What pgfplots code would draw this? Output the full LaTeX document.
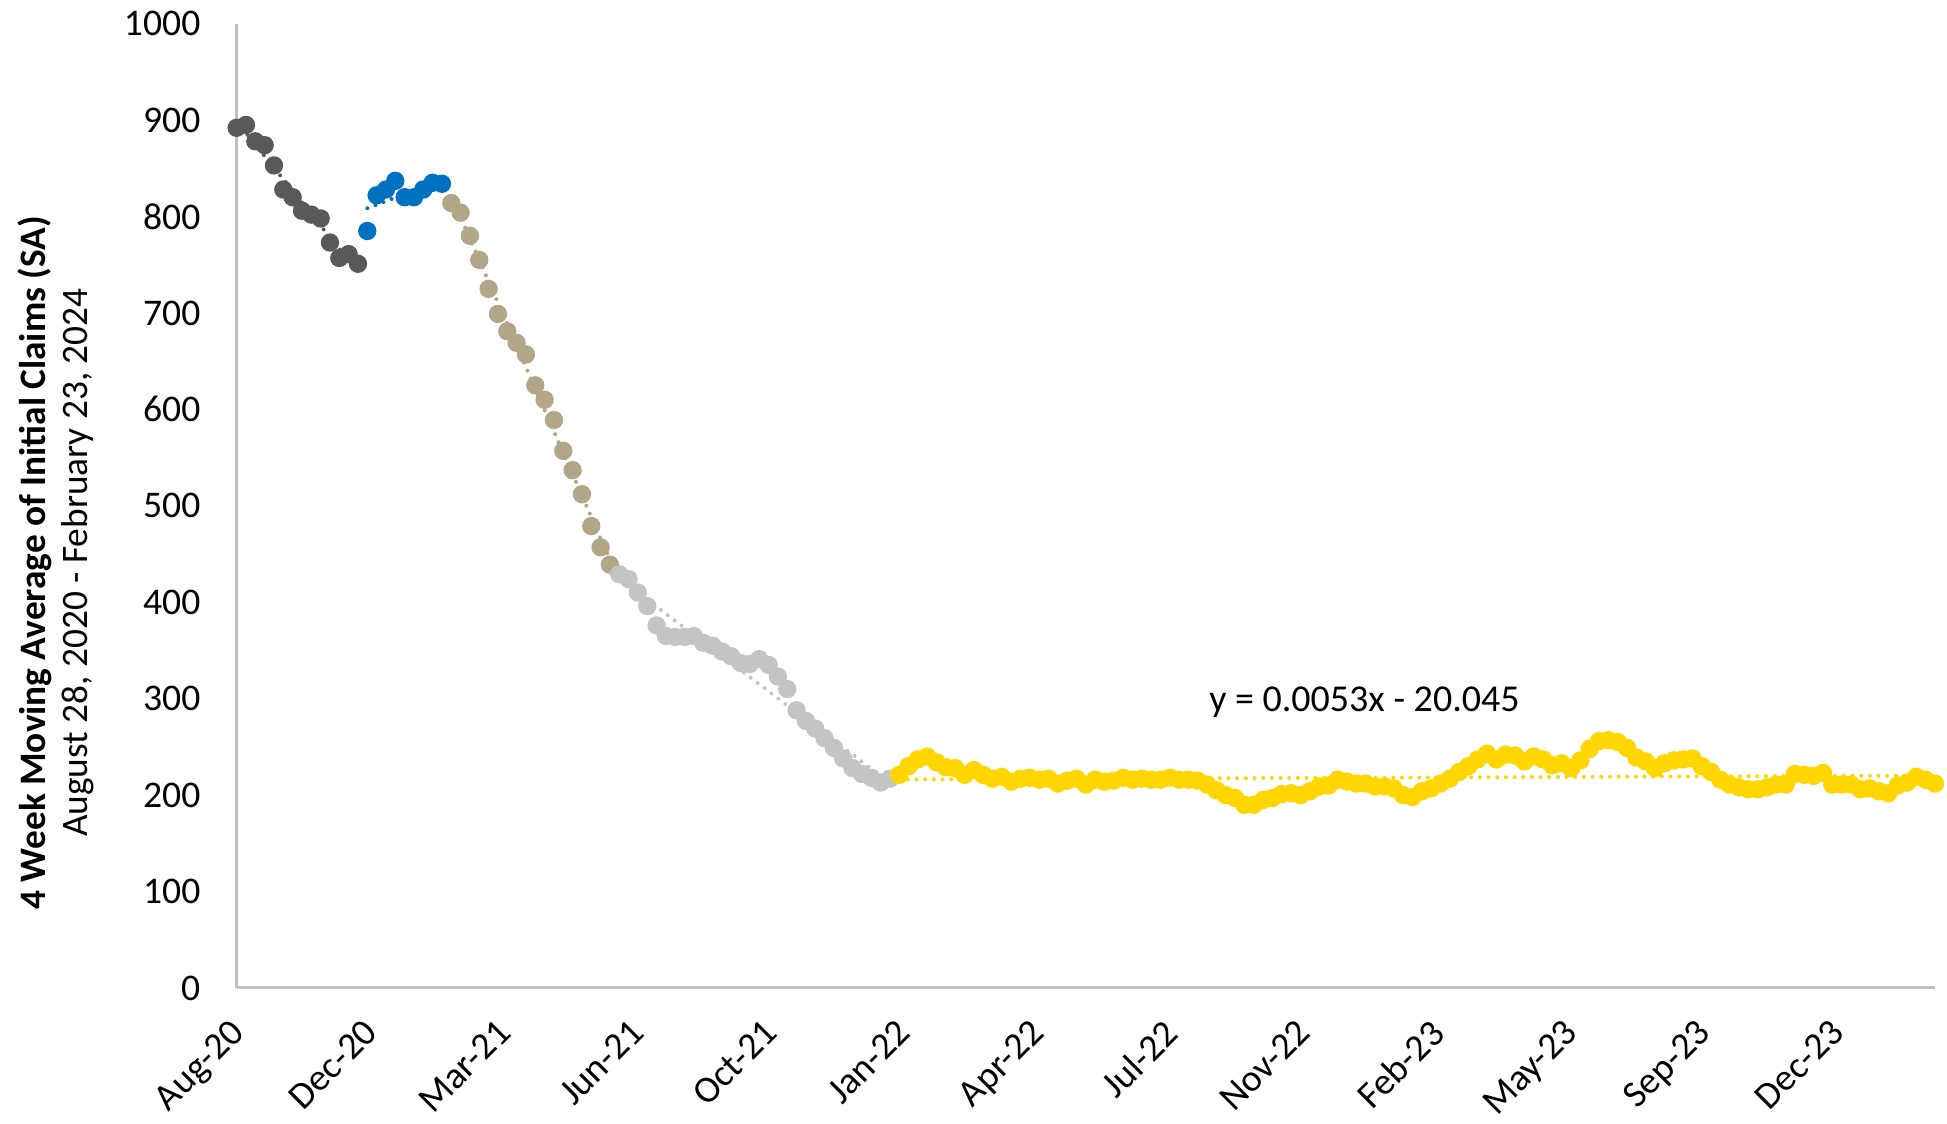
\documentclass[border=0pt]{standalone}
\usepackage{fontspec}
\setmainfont{Carlito}
\usepackage{pgfplots}
\pgfplotsset{compat=1.18}
\usetikzlibrary{calc}
\definecolor{cdark}{RGB}{89,89,89}
\definecolor{cblue}{RGB}{0,112,192}
\definecolor{ctan}{RGB}{177,166,136}
\definecolor{clgray}{RGB}{196,196,196}
\definecolor{cyel}{RGB}{255,214,0}
\definecolor{caxis}{RGB}{191,191,191}

% x = days after 28 Aug 2020, y = 4-week average of initial claims (thousands)
\pgfplotstableread{
x y
0 892
7 895
14 878
21 874
28 853
35 828
42 820
49 806
56 802
63 798
70 773
77 757
84 761
91 751
}\darkdata
\pgfplotstableread{
x y
98 785
105 822
112 828
119 837
126 820
133 820
140 828
147 835
154 834
}\bluedata
\pgfplotstableread{
x y
161 814
168 804
175 780
182 755
189 725
196 699
203 681
210 669
217 657
224 625
231 610
238 589
245 557
252 537
259 512
266 479
273 457
280 439
}\tandata
\pgfplotstableread{
x y
287 429
294 424
301 410
308 396
315 376
322 365
329 364
336 364
343 365
350 358
357 355
364 349
371 344
378 337
385 336
392 341
399 335
406 323
413 310
420 288
427 277
434 269
441 259
448 249
455 238
462 228
469 222
476 218
483 213
490 217
}\graydata
\pgfplotstableread{
x y
497 221
504 230
511 237
518 240
525 234
532 229
539 228
546 221
553 226
560 221
567 217
574 219
581 214
588 217
595 218
602 216
609 217
616 212
623 215
630 217
637 211
644 216
651 214
658 215
665 218
672 216
679 217
686 216
693 216
700 218
707 216
714 216
721 215
728 211
735 205
742 200
749 197
756 190
763 190
770 195
777 197
784 201
791 202
798 200
805 204
812 209
819 210
826 216
833 214
840 212
847 212
854 209
861 209
868 207
875 200
882 198
889 204
896 207
903 212
910 217
917 224
924 230
931 237
938 243
945 237
952 242
959 241
966 235
973 240
980 237
987 231
994 233
1001 228
1008 236
1015 248
1022 256
1029 257
1036 255
1043 249
1050 239
1057 235
1064 228
1071 233
1078 236
1085 237
1092 238
1099 230
1106 224
1113 216
1120 211
1127 208
1134 206
1141 206
1148 208
1155 211
1162 211
1169 222
1176 221
1183 220
1190 223
1197 211
1204 211
1211 211
1218 206
1225 207
1232 204
1239 202
1246 210
1253 213
1260 219
1267 216
1274 212
}\yeldata

\begin{document}
\begin{tikzpicture}
\begin{axis}[
  name=ax,
  width=509.5pt, height=289.3pt, scale only axis,
  xmin=0, xmax=1274, ymin=0, ymax=1000,
  axis x line=bottom, axis y line=left,
  axis line style={caxis, line width=0.9pt, -},
  xtick={0,100,...,1200},
  xticklabels={Aug-20,Dec-20,Mar-21,Jun-21,Oct-21,Jan-22,Apr-22,Jul-22,Nov-22,Feb-23,May-23,Sep-23,Dec-23},
  ytick={0,100,...,1000},
  major tick length=0pt,
  tick label style={font=\fontsize{11.3}{13}\selectfont, black},
  xticklabel style={rotate=45, anchor=north east, inner sep=0pt, xshift=-7.8pt, yshift=-4.4pt},
  yticklabel style={anchor=east, inner sep=0pt, xshift=-10.7pt},
  /pgf/number format/assume math mode=true,
  /pgf/number format/1000 sep={},
  clip=false,
  trend/.style={line width=1.2pt, dash pattern=on 0pt off 2.6pt, line cap=round, no marks},
  pts/.style={only marks, mark=*, mark size=2.55pt, mark options={solid}},
]
% trend lines
\addplot[trend, cdark] coordinates {(0,898.7) (91,742.4)};
\addplot[trend, cblue] coordinates {(98,808.6) (154,837.8)};
\addplot[trend, ctan] coordinates {(161,821.4) (280,444)};
\addplot[trend, clgray] coordinates {(287,424.5) (490,212.8)};
\addplot[trend, cyel] coordinates {(497,216.2) (1274,220.3)};
% weekly points
\addplot[pts, cdark] table {\darkdata};
\addplot[pts, cblue] table {\bluedata};
\addplot[pts, ctan] table {\tandata};
\addplot[pts, clgray] table {\graydata};
\addplot[pts, cyel] table {\yeldata};

\node[font=\fontsize{11.4}{14}\selectfont, black] at (axis cs:846,296) {y = 0.0053x - 20.045};
\node[rotate=90, align=center, font=\fontsize{11.2}{12.7}\selectfont] at (rel axis cs:-0.1064,0.441)
  {\textbf{4 Week Moving Average of Initial Claims (SA)}\\August 28, 2020 - February 23, 2024};
\end{axis}
\pgfresetboundingbox
\path ($(ax.south west)+(-71pt,-40.6pt)$) rectangle ($(ax.north east)+(3.6pt,7.1pt)$);
\end{tikzpicture}
\end{document}
